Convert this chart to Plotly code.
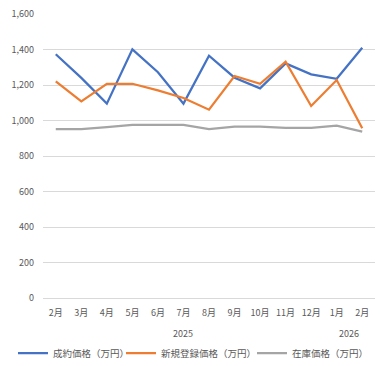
import plotly.graph_objects as go

months = ["2月", "3月", "4月", "5月", "6月", "7月", "8月", "9月", "10月", "11月", "12月", "1月", "2月"]
years = ["2025"] * 11 + ["2026"] * 2
contract_price = [1373, 1240, 1095, 1401, 1272, 1095, 1365, 1241, 1181, 1322, 1260, 1235, 1410]
new_listing_price = [1221, 1108, 1207, 1207, 1170, 1127, 1061, 1251, 1207, 1331, 1082, 1228, 956]
stock_price = [952, 952, 963, 975, 975, 975, 952, 965, 965, 959, 959, 971, 937]

series_names = ["成約価格（万円）", "新規登録価格（万円）", "在庫価格（万円）"]
colors = ["#4472C4", "#ED7D31", "#A5A5A5"]

FONT = "Noto Sans CJK JP"
idx = list(range(len(months)))

legend_ids = ["legend", "legend2", "legend3"]
legend_x = [-0.0904, 0.2349, 0.6295]

fig = go.Figure()
for name, vals, c, lg in zip(series_names, [contract_price, new_listing_price, stock_price],
                             colors, legend_ids):
    fig.add_trace(go.Scatter(x=idx, y=vals, mode="lines", name=name, legend=lg,
                             line=dict(color=c, width=2.25)))

# year labels centered under their month groups
for y in dict.fromkeys(years):
    pos = [i for i, yy in zip(idx, years) if yy == y]
    fig.add_annotation(x=sum(pos) / len(pos), y=0, xref="x", yref="paper",
                       yanchor="middle", yshift=-35, text=y, showarrow=False,
                       font=dict(family=FONT, size=9, color="#595959"))

legend_style = {
    lg: dict(orientation="h", x=lx, xanchor="left", y=-0.194, yanchor="middle",
             font=dict(family=FONT, size=9.5, color="#595959"),
             itemwidth=30, bgcolor="rgba(0,0,0,0)")
    for lg, lx in zip(legend_ids, legend_x)
}

fig.update_layout(
    width=382, height=366,
    margin=dict(l=43, r=7, t=14, b=68, autoexpand=False),
    paper_bgcolor="white", plot_bgcolor="white",
    font=dict(family=FONT, size=9, color="#595959"),
    showlegend=True,
    **legend_style,
)
fig.update_xaxes(range=[-0.5, len(months) - 0.5], tickmode="array", tickvals=idx,
                 ticktext=months, showgrid=False, zeroline=False,
                 showline=False, ticks="", ticklabelstandoff=8,
                 tickfont=dict(size=9, color="#595959"))
fig.update_yaxes(range=[0, 1600], dtick=200, tickformat=",", showgrid=True,
                 gridcolor="#D9D9D9", gridwidth=1, zeroline=True, zerolinecolor="#D9D9D9",
                 zerolinewidth=1, ticks="", showline=False, ticklabelstandoff=8,
                 tickfont=dict(size=9, color="#595959"))

fig.write_html("out.html", config={"displayModeBar": False},
               post_script="document.body.style.margin='0';document.body.style.overflow='hidden';")
